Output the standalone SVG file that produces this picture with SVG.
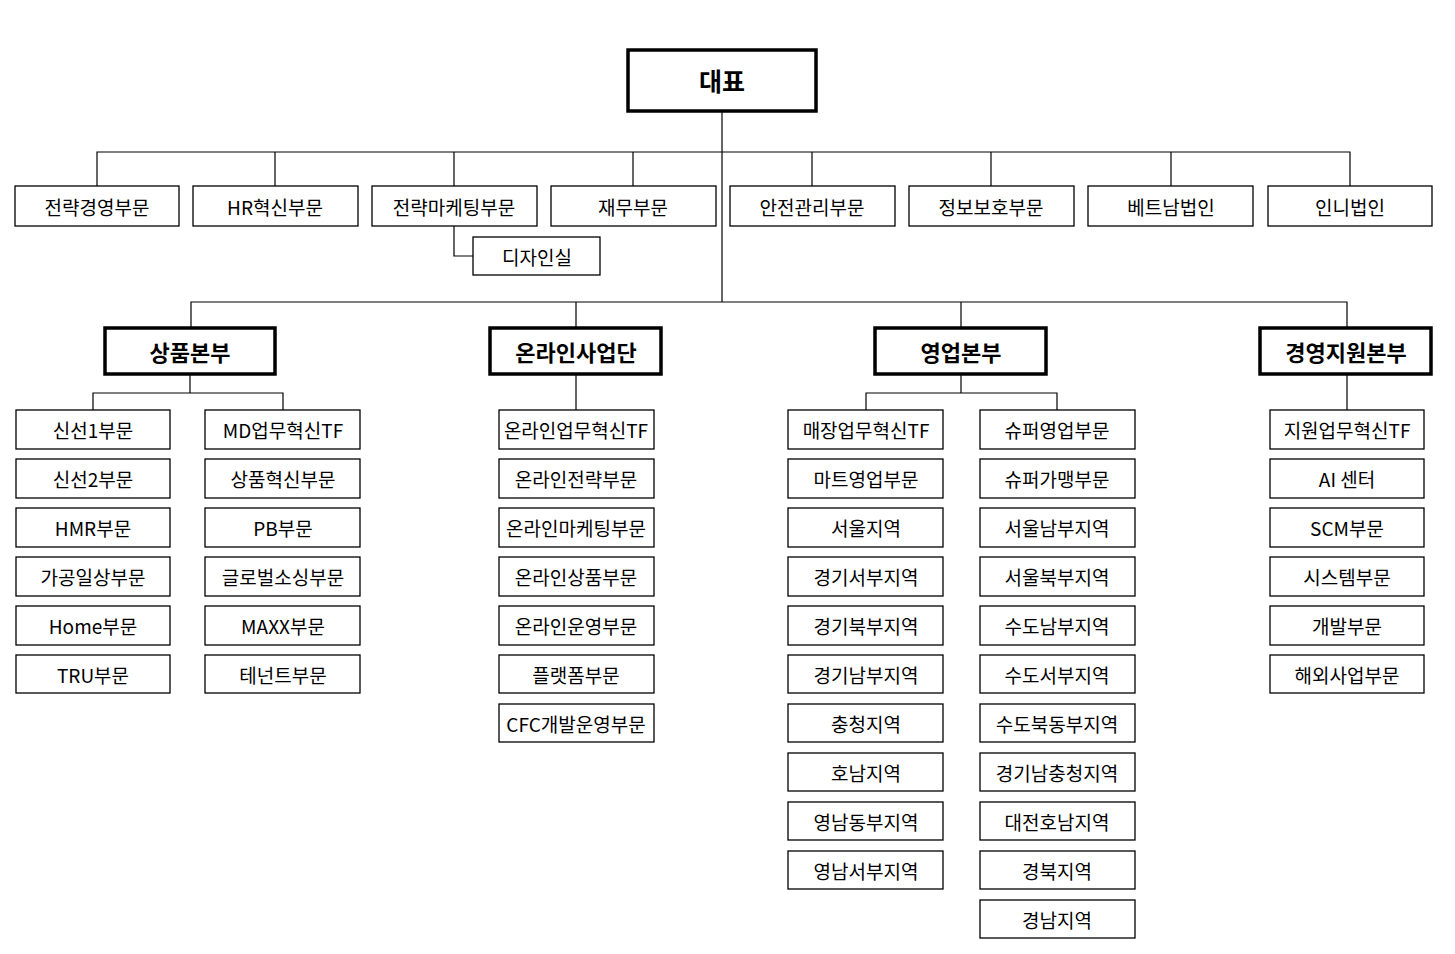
<svg xmlns="http://www.w3.org/2000/svg" width="1455" height="954" viewBox="0 0 1455 954">
<style>
text{font-family:"Noto Sans CJK KR","Noto Sans",sans-serif;font-size:19px;text-anchor:middle;dominant-baseline:central;fill:#000}
.b rect{fill:#fff;stroke:#000;stroke-width:1.3}
.h rect{fill:#fff;stroke:#000;stroke-width:3.5}
.h text{font-size:22px;font-weight:bold}
.l{stroke:#000;stroke-width:1.2;fill:none}
</style>
<rect width="1455" height="954" fill="#fff"/>
<g id="connectors" class="l">
<path d="M722 111V302M97 186V152H1350V186M275 152V186M454 152V186M633 152V186M812 152V186M991 152V186M1171 152V186"/>
<path d="M454 226V256H473"/>
<path d="M191 328V302H1347V328M576 302V328M961 302V328"/>
<path d="M190 374V393M93 410V393H283V410"/>
<path d="M576 374V410M1347 374V410"/>
<path d="M961 374V393M866 410V393H1057V410"/>
</g>
<g id="ceo" class="h"><rect x="628" y="50" width="188" height="61"/><text x="722" y="80" style="font-size:25px">대표</text></g>
<g id="top" class="b">
<rect x="15" y="186" width="164" height="40"/><text x="97" y="206">전략경영부문</text>
<rect x="193" y="186" width="165" height="40"/><text x="275" y="206">HR혁신부문</text>
<rect x="372" y="186" width="165" height="40"/><text x="454" y="206">전략마케팅부문</text>
<rect x="551" y="186" width="165" height="40"/><text x="633" y="206">재무부문</text>
<rect x="730" y="186" width="165" height="40"/><text x="812" y="206">안전관리부문</text>
<rect x="909" y="186" width="165" height="40"/><text x="991" y="206">정보보호부문</text>
<rect x="1088" y="186" width="165" height="40"/><text x="1171" y="206">베트남법인</text>
<rect x="1268" y="186" width="164" height="40"/><text x="1350" y="206">인니법인</text>
<rect x="473" y="237" width="127" height="38"/><text x="537" y="256">디자인실</text>
</g>
<g id="hq" class="h">
<rect x="105" y="328" width="170" height="46"/><text x="190" y="351">상품본부</text>
<rect x="490" y="328" width="171" height="46"/><text x="576" y="351">온라인사업단</text>
<rect x="875" y="328" width="171" height="46"/><text x="961" y="351">영업본부</text>
<rect x="1260" y="328" width="171" height="46"/><text x="1346" y="351">경영지원본부</text>
</g>
<g id="product" class="b">
<rect x="16" y="410" width="154" height="39"/><text x="93" y="429">신선1부문</text>
<rect x="16" y="459" width="154" height="39"/><text x="93" y="478">신선2부문</text>
<rect x="16" y="508" width="154" height="39"/><text x="93" y="527">HMR부문</text>
<rect x="16" y="557" width="154" height="39"/><text x="93" y="576">가공일상부문</text>
<rect x="16" y="606" width="154" height="39"/><text x="93" y="625">Home부문</text>
<rect x="16" y="655" width="154" height="38"/><text x="93" y="674">TRU부문</text>
<rect x="205" y="410" width="155" height="39"/><text x="283" y="429">MD업무혁신TF</text>
<rect x="205" y="459" width="155" height="39"/><text x="283" y="478">상품혁신부문</text>
<rect x="205" y="508" width="155" height="39"/><text x="283" y="527">PB부문</text>
<rect x="205" y="557" width="155" height="39"/><text x="283" y="576">글로벌소싱부문</text>
<rect x="205" y="606" width="155" height="39"/><text x="283" y="625">MAXX부문</text>
<rect x="205" y="655" width="155" height="38"/><text x="283" y="674">테넌트부문</text>
</g>
<g id="online" class="b">
<rect x="499" y="410" width="155" height="39"/><text x="576" y="429">온라인업무혁신TF</text>
<rect x="499" y="459" width="155" height="39"/><text x="576" y="478">온라인전략부문</text>
<rect x="499" y="508" width="155" height="39"/><text x="576" y="527">온라인마케팅부문</text>
<rect x="499" y="557" width="155" height="39"/><text x="576" y="576">온라인상품부문</text>
<rect x="499" y="606" width="155" height="39"/><text x="576" y="625">온라인운영부문</text>
<rect x="499" y="655" width="155" height="38"/><text x="576" y="674">플랫폼부문</text>
<rect x="499" y="704" width="155" height="38"/><text x="576" y="723">CFC개발운영부문</text>
</g>
<g id="sales" class="b">
<rect x="788" y="410" width="155" height="39"/><text x="866" y="429">매장업무혁신TF</text>
<rect x="788" y="459" width="155" height="39"/><text x="866" y="478">마트영업부문</text>
<rect x="788" y="508" width="155" height="39"/><text x="866" y="527">서울지역</text>
<rect x="788" y="557" width="155" height="39"/><text x="866" y="576">경기서부지역</text>
<rect x="788" y="606" width="155" height="39"/><text x="866" y="625">경기북부지역</text>
<rect x="788" y="655" width="155" height="38"/><text x="866" y="674">경기남부지역</text>
<rect x="788" y="704" width="155" height="38"/><text x="866" y="723">충청지역</text>
<rect x="788" y="753" width="155" height="38"/><text x="866" y="772">호남지역</text>
<rect x="788" y="802" width="155" height="38"/><text x="866" y="821">영남동부지역</text>
<rect x="788" y="851" width="155" height="38"/><text x="866" y="870">영남서부지역</text>
<rect x="980" y="410" width="155" height="39"/><text x="1057" y="429">슈퍼영업부문</text>
<rect x="980" y="459" width="155" height="39"/><text x="1057" y="478">슈퍼가맹부문</text>
<rect x="980" y="508" width="155" height="39"/><text x="1057" y="527">서울남부지역</text>
<rect x="980" y="557" width="155" height="39"/><text x="1057" y="576">서울북부지역</text>
<rect x="980" y="606" width="155" height="39"/><text x="1057" y="625">수도남부지역</text>
<rect x="980" y="655" width="155" height="38"/><text x="1057" y="674">수도서부지역</text>
<rect x="980" y="704" width="155" height="38"/><text x="1057" y="723">수도북동부지역</text>
<rect x="980" y="753" width="155" height="38"/><text x="1057" y="772">경기남충청지역</text>
<rect x="980" y="802" width="155" height="38"/><text x="1057" y="821">대전호남지역</text>
<rect x="980" y="851" width="155" height="38"/><text x="1057" y="870">경북지역</text>
<rect x="980" y="900" width="155" height="38"/><text x="1057" y="919">경남지역</text>
</g>
<g id="support" class="b">
<rect x="1270" y="410" width="154" height="39"/><text x="1347" y="429">지원업무혁신TF</text>
<rect x="1270" y="459" width="154" height="39"/><text x="1347" y="478">AI 센터</text>
<rect x="1270" y="508" width="154" height="39"/><text x="1347" y="527">SCM부문</text>
<rect x="1270" y="557" width="154" height="39"/><text x="1347" y="576">시스템부문</text>
<rect x="1270" y="606" width="154" height="39"/><text x="1347" y="625">개발부문</text>
<rect x="1270" y="655" width="154" height="38"/><text x="1347" y="674">해외사업부문</text>
</g>
</svg>
